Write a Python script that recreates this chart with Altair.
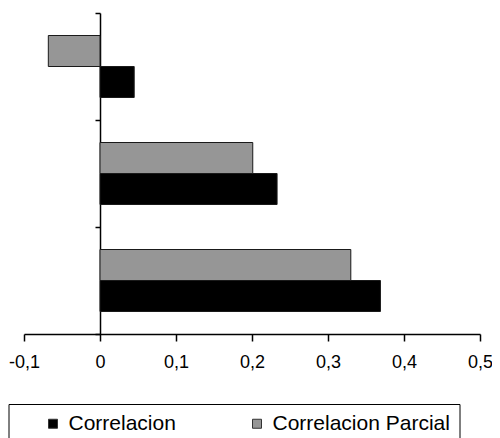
import altair as alt
import pandas as pd

groups = ["1", "2", "3"]
series = ["Correlacion", "Correlacion Parcial"]
correlacion = [0.045, 0.233, 0.369]
correlacion_parcial = [-0.068, 0.201, 0.330]

rows = []
for g, a, b in zip(groups, correlacion, correlacion_parcial):
    rows.append({"grupo": g, "serie": series[0], "valor": a})
    rows.append({"grupo": g, "serie": series[1], "valor": b})
df = pd.DataFrame(rows)

FONT = "Liberation Sans"
label_expr = "replace(replace(format(datum.value, '.1~f'), '.', ','), '\u2212', '-')"

chart = alt.Chart(df).mark_bar(stroke="#1a1a1a", strokeWidth=1).encode(
    x=alt.X("valor:Q",
            scale=alt.Scale(domain=[-0.1, 0.5], nice=False, zero=False),
            axis=alt.Axis(values=[-0.1, 0, 0.1, 0.2, 0.3, 0.4, 0.5], labelExpr=label_expr,
                          title=None, grid=False, tickSize=7, tickColor="black",
                          domainColor="black", tickWidth=1.5, domainWidth=1.5,
                          labelFont=FONT, labelFontSize=18, labelColor="black",
                          labelPadding=12, labelFlush=False)),
    y=alt.Y("grupo:N", sort=groups,
            scale=alt.Scale(paddingInner=0, paddingOuter=0),
            axis=alt.Axis(labels=False, title=None, tickBand="extent", tickSize=5,
                          tickColor="black", domainColor="black", tickWidth=1.5,
                          domainWidth=1.5, offset=-76)),
    yOffset=alt.YOffset("serie:N", sort=[series[1], series[0]],
                        scale=alt.Scale(paddingInner=0, paddingOuter=0.726)),
    color=alt.Color("serie:N", sort=series,
                    scale=alt.Scale(domain=series, range=["#000000", "#969696"]),
                    legend=alt.Legend(orient="none", legendX=-15.5, legendY=391,
                                      direction="horizontal", columns=2, title=" ",
                                      titleOrient="left", titlePadding=25, titleFontSize=6,
                                      symbolType="square", symbolSize=81,
                                      symbolStrokeColor="#333333", symbolStrokeWidth=1,
                                      labelFont=FONT, labelFontSize=21, labelColor="black",
                                      labelOffset=5, columnPadding=70,
                                      padding=9, strokeColor="black", labelLimit=500)),
).properties(
    width=456, height=321,
    padding={"left": 16, "top": 5, "right": 12, "bottom": 104},
    autosize=alt.AutoSizeParams(type="none"),
).configure_view(stroke=None)

chart.save("out.html", embed_options={"renderer": "svg", "actions": False})
